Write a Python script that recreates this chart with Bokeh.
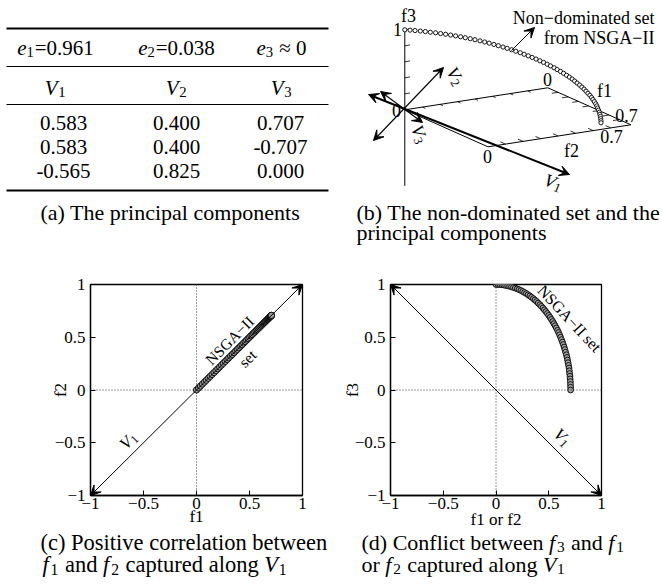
import math
from bokeh.plotting import figure
from bokeh.layouts import column, row
from bokeh.models import Label, Arrow, VeeHead, Span, FixedTicker, Range1d
from bokeh.embed import file_html
from bokeh.resources import INLINE

# ---------------- data ----------------
pc_names = ["1", "2", "3"]                       # V1, V2, V3
eig_text = ["=0.961", "=0.038", " \u2248 0"]      # e1, e2, e3
pc_V1 = [0.583, 0.583, -0.565]
pc_V2 = [0.400, 0.400, 0.825]
pc_V3 = [0.707, -0.707, 0.000]

front_f1 = [0.000, 0.019, 0.037, 0.056, 0.074, 0.092, 0.111, 0.129, 0.147, 0.165,
            0.183, 0.201, 0.218, 0.236, 0.253, 0.271, 0.288, 0.304, 0.321, 0.337,
            0.354, 0.369, 0.385, 0.400, 0.416, 0.430, 0.445, 0.459, 0.473, 0.487,
            0.500, 0.513, 0.525, 0.538, 0.549, 0.561, 0.572, 0.583, 0.593, 0.603,
            0.612, 0.621, 0.630, 0.638, 0.646, 0.653, 0.660, 0.667, 0.673, 0.678,
            0.683, 0.688, 0.692, 0.695, 0.698, 0.701, 0.703, 0.705, 0.706, 0.707, 0.707]
front_f2 = [0.000, 0.019, 0.037, 0.056, 0.074, 0.092, 0.111, 0.129, 0.147, 0.165,
            0.183, 0.201, 0.218, 0.236, 0.253, 0.271, 0.288, 0.304, 0.321, 0.337,
            0.354, 0.369, 0.385, 0.400, 0.416, 0.430, 0.445, 0.459, 0.473, 0.487,
            0.500, 0.513, 0.525, 0.538, 0.549, 0.561, 0.572, 0.583, 0.593, 0.603,
            0.612, 0.621, 0.630, 0.638, 0.646, 0.653, 0.660, 0.667, 0.673, 0.678,
            0.683, 0.688, 0.692, 0.695, 0.698, 0.701, 0.703, 0.705, 0.706, 0.707, 0.707]
front_f3 = [1.000, 1.000, 0.999, 0.997, 0.995, 0.991, 0.988, 0.983, 0.978, 0.972,
            0.966, 0.959, 0.951, 0.943, 0.934, 0.924, 0.914, 0.903, 0.891, 0.879,
            0.866, 0.853, 0.839, 0.824, 0.809, 0.793, 0.777, 0.760, 0.743, 0.725,
            0.707, 0.688, 0.669, 0.649, 0.629, 0.609, 0.588, 0.566, 0.545, 0.523,
            0.500, 0.477, 0.454, 0.431, 0.407, 0.383, 0.358, 0.334, 0.309, 0.284,
            0.259, 0.233, 0.208, 0.182, 0.156, 0.131, 0.105, 0.079, 0.052, 0.026, 0.000]

tick_vals = [-1, -0.5, 0, 0.5, 1]
tick_text = ["\u22121", "\u22120.5", "0", "0.5", "1"]

box_max = 0.815                     # extent of the 3-D floor box
f3_ticks = [0.2, 0.4, 0.6, 0.8, 1.0]
floor_ticks = [0.1, 0.2, 0.3, 0.4, 0.5, 0.6, 0.7]

# ---------------- helpers ----------------
FONT = "Liberation Serif"
RW = {' ': .25, '(': .333, ')': .333, '.': .25, '-': .333, '\u2212': .564, '=': .564,
      '\u2248': .549, 'a': .444, 'b': .5, 'c': .444, 'd': .5, 'e': .444, 'f': .333,
      'g': .5, 'h': .5, 'i': .278, 'l': .278, 'm': .778, 'n': .5, 'o': .5, 'p': .5,
      'r': .333, 's': .389, 't': .278, 'u': .5, 'v': .5, 'w': .722, 'y': .5,
      'A': .722, 'C': .667, 'G': .722, 'I': .333, 'N': .722, 'P': .556, 'S': .556,
      'T': .611, 'V': .722}
IW = {'e': .444, 'f': .36, 'V': .64}


def tw(s, italic):
    return sum((IW.get(c, RW.get(c, .5)) if italic else RW.get(c, .5)) for c in s)


def rich(p, conv, cx, cy, pieces, size, align="left", angle=0.0):
    """Place text pieces; (cx, cy) = visual centre of the line (window px)."""
    sizes = [size * 0.7 if k == "s" else size for _, k in pieces]
    widths = [tw(t, k == "i") * fs + (0.04 * size if k == "s" else 0.0)
              for (t, k), fs in zip(pieces, sizes)]
    total = sum(widths)
    th = math.radians(angle)
    c, s = math.cos(th), math.sin(th)
    u = {"left": 0.0, "center": -total / 2, "right": -total}[align]
    for (t, k), fs, w in zip(pieces, sizes, widths):
        lead = len(t) - len(t.lstrip(" "))
        txt = t.strip(" ")
        uu = u + lead * RW[" "] * fs
        v = 0.2 * size if k == "s" else 0.0
        xp = cx + uu * c + v * s
        yp = cy - uu * s + v * c
        dx, dy = conv(xp, yp)
        if txt:
            p.add_layout(Label(x=dx, y=dy, text=txt, text_font=FONT,
                               text_font_size="%.1fpx" % fs,
                               text_font_style="italic" if k == "i" else "normal",
                               text_align="left", text_baseline="alphabetic",
                               angle=angle, angle_units="deg", text_color="black"))
        u += w


def canvas(x0, x1, y0, y1, transparent=False):
    p = figure(width=int(x1 - x0), height=int(y1 - y0),
               x_range=Range1d(x0, x1), y_range=Range1d(y1, y0),
               output_backend="svg", toolbar_location=None,
               x_axis_type=None, y_axis_type=None,
               min_border_left=0, min_border_right=0, min_border_top=0, min_border_bottom=0)
    p.outline_line_color = None
    if transparent:
        p.background_fill_alpha = 0
        p.border_fill_alpha = 0
    else:
        p.background_fill_color = "white"
        p.border_fill_color = "white"
    return p


def ident(x, y):
    return x, y


# ---------------- (a) table ----------------
fa = canvas(0, 331, 0, 250)
for yy, lw in [(28, 2.0), (66, 1.0), (104, 1.0), (190, 2.0)]:
    fa.segment(x0=[6], y0=[yy], x1=[328], y1=[yy], line_color="black", line_width=lw)
col_hdr_x = [55, 176, 281]
col_num_x = [63, 176, 280]
row_y = [122, 146, 170]
for j in range(3):
    rich(fa, ident, col_hdr_x[j], 47,
         [("e", "i"), (pc_names[j], "s"), (eig_text[j], "r")], 21, "center")
    rich(fa, ident, col_hdr_x[j], 87, [("V", "i"), (pc_names[j], "s")], 21, "center")
for j, vec in enumerate([pc_V1, pc_V2, pc_V3]):
    for i in range(3):
        rich(fa, ident, col_num_x[j], row_y[i], [("%.3f" % vec[i], "r")], 21, "center")
rich(fa, ident, 40, 212, [("(a) The principal components", "r")], 22)

# ---------------- (b) 3-D view ----------------
fb = canvas(331, 662, 0, 250)
B_O = (404.3, 109.3)
B_E1 = (102.0, 45.4)
B_E2 = (175.5, -27.0)
B_E3 = (0.0, -80.0)


def proj(a, b, c):
    return (B_O[0] + a * B_E1[0] + b * B_E2[0] + c * B_E3[0],
            B_O[1] + a * B_E1[1] + b * B_E2[1] + c * B_E3[1])


L = box_max
corners = [proj(0, 0, 0), proj(0, L, 0), proj(L, L, 0), proj(L, 0, 0), proj(0, 0, 0)]
fb.line([q[0] for q in corners], [q[1] for q in corners], line_color="black", line_width=1)
top = proj(0, 0, 1.0)
bot = proj(0, 0, -0.95)
fb.line([top[0], bot[0]], [top[1], bot[1]], line_color="black", line_width=1)
seg = []
for t in f3_ticks:
    seg.append((proj(0, 0, t), proj(0, 0.03, t)))
for t in floor_ticks:
    seg.append((proj(t, L, 0), proj(t, L - 0.035, 0)))
    seg.append((proj(L, t, 0), proj(L - 0.05, t, 0)))
    seg.append((proj(0, t, 0), proj(0.03, t, 0)))
fb.segment(x0=[s_[0][0] for s_ in seg], y0=[s_[0][1] for s_ in seg],
           x1=[s_[1][0] for s_ in seg], y1=[s_[1][1] for s_ in seg],
           line_color="black", line_width=0.8)

# principal-component arrows and the call-out (hand-placed annotations)
b_arrow_x0 = [368, 373, 380, 511]
b_arrow_y0 = [94, 140, 91, 50]
b_arrow_x1 = [569, 443, 422, 534]
b_arrow_y1 = [174, 67, 122, 27]
b_arrow_w = [2.0, 1.1, 1.1, 1.0]
b_arrow_both = [True, True, True, False]
for x0, y0, x1, y1, w, both in zip(b_arrow_x0, b_arrow_y0, b_arrow_x1, b_arrow_y1,
                                   b_arrow_w, b_arrow_both):
    fb.add_layout(Arrow(x_start=x0, y_start=y0, x_end=x1, y_end=y1, line_width=w,
                        end=VeeHead(size=10, fill_color="black", line_color="black", line_width=1),
                        start=VeeHead(size=10, fill_color="black", line_color="black",
                                      line_width=1) if both else None))

pts = [proj(a, b, c) for a, b, c in zip(front_f1, front_f2, front_f3)]
fb.scatter([q[0] for q in pts], [q[1] for q in pts], size=4.2, fill_color="white",
           line_color="black", line_width=0.9)

rich(fb, ident, 408, 15, [("f3", "r")], 18, "center")
rich(fb, ident, 397, 29, [("1", "r")], 18, "center")
rich(fb, ident, 396, 110, [("0", "r")], 18, "center")
rich(fb, ident, 547, 79, [("0", "r")], 18, "center")
rich(fb, ident, 604, 90, [("f1", "r")], 18, "center")
rich(fb, ident, 626, 115, [("0.7", "r")], 18, "center")
rich(fb, ident, 611, 136, [("0.7", "r")], 18, "center")
rich(fb, ident, 487, 156, [("0", "r")], 18, "center")
rich(fb, ident, 571, 150, [("f2", "r")], 18, "center")
rich(fb, ident, 654, 17, [("Non\u2212dominated set", "r")], 18, "right")
rich(fb, ident, 654, 37, [("from NSGA\u2212II", "r")], 18, "right")
rich(fb, ident, 455, 76, [("V", "i"), ("2", "s")], 18, "center", -60)
rich(fb, ident, 419, 134, [("V", "i"), ("3", "s")], 18, "center", -70)
rich(fb, ident, 553, 182, [("V", "i"), ("1", "s")], 18, "center", -22)
rich(fb, ident, 356, 212, [("(b) The non-dominated set and the", "r")], 22)
rich(fb, ident, 356, 232, [("principal components", "r")], 22)

# ---------------- (c) and (d) ----------------
FR_TOP, FR_BOT = 284, 495           # frame top / bottom in window px
ROW_H = 286                          # height of the (c)/(d) figures
CAP_TOP = 528                        # where the caption strip starts (overlaps by margin)


def axes_fig(left, right, xlab, ylab, xl_stand, yl_stand):
    p = figure(width=331, height=ROW_H, x_range=Range1d(-1, 1), y_range=Range1d(-1, 1),
               output_backend="svg", toolbar_location=None,
               min_border_left=left, min_border_right=right,
               min_border_top=FR_TOP - 250, min_border_bottom=250 + ROW_H - FR_BOT)
    p.grid.visible = False
    p.outline_line_color = "black"
    p.outline_line_width = 1.3
    p.background_fill_color = "white"
    p.border_fill_color = "white"
    for ax in (p.xaxis[0], p.yaxis[0]):
        ax.ticker = FixedTicker(ticks=tick_vals)
        ax.major_label_overrides = {v: t for v, t in zip(tick_vals, tick_text)}
        ax.major_tick_in = 5
        ax.major_tick_out = 0
        ax.minor_tick_in = 0
        ax.minor_tick_out = 0
        ax.axis_line_width = 1.3
        ax.major_tick_line_width = 1
        ax.major_label_text_font = FONT
        ax.major_label_text_font_size = "17px"
        ax.major_label_text_color = "black"
        ax.axis_label_text_font = FONT
        ax.axis_label_text_font_size = "17px"
        ax.axis_label_text_font_style = "normal"
        ax.axis_label_text_color = "black"
    p.xaxis[0].axis_label = xlab
    p.yaxis[0].axis_label = ylab
    p.xaxis[0].major_label_standoff = 2
    p.xaxis[0].axis_label_standoff = xl_stand
    p.yaxis[0].major_label_standoff = 5
    p.yaxis[0].axis_label_standoff = yl_stand
    p.add_layout(Span(location=0, dimension="height", line_color="#333333",
                      line_width=1, line_dash="1 2"))
    p.add_layout(Span(location=0, dimension="width", line_color="#333333",
                      line_width=1, line_dash="1 2"))
    return p


# (c)
C_L, C_R = 90, 302
fc = axes_fig(C_L, 331 - C_R, "f1", "f2", -5, -18)


def conv_c(xp, yp):
    return (-1 + (xp - C_L) * 2 / float(C_R - C_L),
            1 - (yp - FR_TOP) * 2 / float(FR_BOT - FR_TOP))


fc.add_layout(Arrow(x_start=-1, y_start=-1, x_end=1, y_end=1, line_width=1,
                    start=VeeHead(size=10, fill_color="black", line_color="black", line_width=1),
                    end=VeeHead(size=10, fill_color="black", line_color="black", line_width=1)))
fc.scatter(front_f1, front_f2, size=6.2, fill_color="#a0a0a0", line_color="black",
           line_width=0.9)
rich(fc, conv_c, 128, 440, [("V", "i"), ("1", "s")], 17, "center", 45)
rich(fc, conv_c, 229, 340, [("NSGA\u2212II", "r")], 15.5, "center", 45)
rich(fc, conv_c, 247, 358, [("set", "r")], 15.5, "center", 45)

# (d)
D_L, D_R = 390, 601
fd = axes_fig(D_L - 331, 662 - D_R, "f1 or f2", "f3", -2, -10)


def conv_d(xp, yp):
    return (-1 + (xp - D_L) * 2 / float(D_R - D_L),
            1 - (yp - FR_TOP) * 2 / float(FR_BOT - FR_TOP))


fd.add_layout(Arrow(x_start=1, y_start=-1, x_end=-1, y_end=1, line_width=1,
                    start=VeeHead(size=10, fill_color="black", line_color="black", line_width=1),
                    end=VeeHead(size=10, fill_color="black", line_color="black", line_width=1)))
fd.scatter(front_f1, front_f3, size=5.8, fill_color="#a0a0a0", line_color="black",
           line_width=0.9)
rich(fd, conv_d, 562, 437, [("V", "i"), ("1", "s")], 17, "center", -45)
rich(fd, conv_d, 569, 318, [("NSGA\u2212II set", "r")], 16, "center", -47)

# captions of (c) and (d) (transparent strip pulled up over the axis margin)
capc = canvas(0, 331, CAP_TOP, 586, transparent=True)
rich(capc, ident, 40, 542, [("(c) Positive correlation between", "r")], 22.5)
rich(capc, ident, 42, 564, [("f", "i"), ("1", "s"), (" and ", "r"), ("f", "i"), ("2", "s"),
                            (" captured along ", "r"), ("V", "i"), ("1", "s")], 22.5)
capd = canvas(331, 662, CAP_TOP, 586, transparent=True)
rich(capd, ident, 361, 542, [("(d) Conflict between ", "r"), ("f", "i"), ("3", "s"),
                             (" and ", "r"), ("f", "i"), ("1", "s")], 22)
rich(capd, ident, 361, 564, [("or ", "r"), ("f", "i"), ("2", "s"),
                             (" captured along ", "r"), ("V", "i"), ("1", "s")], 22)

cap_row = row(capc, capd, styles={"margin-top": "%dpx" % (CAP_TOP - (250 + ROW_H))})
layout = column(row(fa, fb), row(fc, fd), cap_row)
open("out.html", "w").write(file_html(layout, INLINE))
